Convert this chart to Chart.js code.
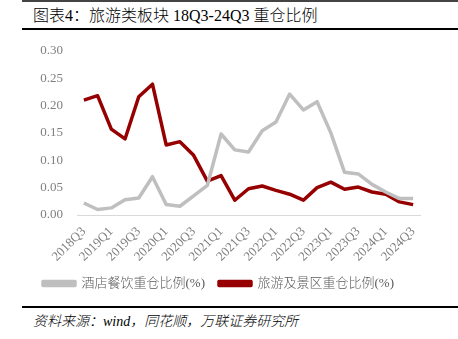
<!DOCTYPE html>
<html>
<head>
<meta charset="utf-8">
<script src="https://cdn.jsdelivr.net/npm/chart.js@4/dist/chart.umd.min.js"></script>
<style>
  html, body { margin: 0; padding: 0; background: #fff; }
  body { width: 458px; height: 339px; position: relative; overflow: hidden;
         font-family: 'Liberation Serif', 'Noto Sans CJK SC', serif; }
  .topline { position: absolute; left: 22px; right: 0; top: 0; height: 2px; background: #444; }
  .title { position: absolute; left: 33px; top: 5px; font-size: 16px; font-weight: 300; color: #000; white-space: nowrap; line-height: 22px; }
  .uline { position: absolute; left: 22px; right: 0; top: 28px; height: 2px; background: #000; }
  .bline { position: absolute; left: 22px; right: 0; top: 306px; height: 2px; background: #000; }
  .source { position: absolute; left: 33px; top: 313px; font-size: 14px; font-weight: 300; font-style: italic; color: #000; white-space: nowrap; line-height: 18px; }
  #wrap { position: absolute; left: 0; top: 29px; width: 458px; height: 271px; }
</style>
</head>
<body>
<div class="topline"></div>
<div class="title">图表4：旅游类板块 18Q3-24Q3 重仓比例</div>
<div class="uline"></div>
<div id="wrap"><canvas id="c"></canvas></div>
<div class="bline"></div>
<div class="source">资料来源：wind，同花顺，万联证券研究所</div>
<script>
const categories = ['2018Q3','2018Q4','2019Q1','2019Q2','2019Q3','2019Q4','2020Q1','2020Q2','2020Q3','2020Q4',
  '2021Q1','2021Q2','2021Q3','2021Q4','2022Q1','2022Q2','2022Q3','2022Q4','2023Q1','2023Q2',
  '2023Q3','2023Q4','2024Q1','2024Q2','2024Q3'];
const hotelValues = [0.022,0.010,0.013,0.028,0.031,0.070,0.019,0.016,0.035,0.054,
  0.148,0.119,0.115,0.154,0.170,0.221,0.192,0.207,0.150,0.078,
  0.075,0.056,0.042,0.030,0.030];
const tourismValues = [0.210,0.218,0.157,0.139,0.216,0.239,0.128,0.134,0.109,0.062,
  0.072,0.027,0.048,0.053,0.045,0.038,0.027,0.050,0.060,0.047,
  0.051,0.042,0.038,0.024,0.019];
const seriesNames = ['酒店餐饮重仓比例(%)', '旅游及景区重仓比例(%)'];
const yTicks = [0, 0.05, 0.10, 0.15, 0.20, 0.25, 0.30];

const FONT = "'Liberation Serif', 'Noto Sans CJK SC', serif";
new Chart(document.getElementById('c'), {
  type: 'line',
  data: {
    labels: categories,
    datasets: [
      { label: seriesNames[0], data: hotelValues, borderColor: '#BFBFBF', backgroundColor: '#BFBFBF',
        borderWidth: 3.5, pointRadius: 0, tension: 0, borderJoinStyle: 'round' },
      { label: seriesNames[1], data: tourismValues, borderColor: '#960000', backgroundColor: '#960000',
        borderWidth: 3.5, pointRadius: 0, tension: 0, borderJoinStyle: 'round' }
    ]
  },
  options: {
    responsive: true,
    maintainAspectRatio: false,
    animation: false,
    layout: { padding: { left: 17, right: 38, top: 8, bottom: 0 } },
    plugins: {
      tooltip: { enabled: false },
      legend: {
        position: 'bottom',
        labels: { boxWidth: 32, boxHeight: 4, padding: 14, color: '#595959',
                  font: { family: FONT, size: 13, weight: 300 } }
      }
    },
    scales: {
      x: {
        offset: true,
        grid: { display: false, drawTicks: false },
        border: { display: true, color: '#D9D9D9', width: 1 },
        ticks: { autoSkip: false, maxRotation: 45, minRotation: 45, padding: 9, color: '#7F7F7F',
                 font: { family: FONT, size: 13 },
                 callback: function(v, i) { return i % 2 === 0 ? categories[i] : ''; } },
        afterFit: s => { s.height = 48; }
      },
      y: {
        min: 0, max: 0.30,
        afterBuildTicks: s => { s.ticks = yTicks.map(v => ({ value: v })); },
        grid: { display: false, drawTicks: false },
        border: { display: false },
        ticks: { padding: 14, color: '#7F7F7F', font: { family: FONT, size: 13 },
                 callback: v => v.toFixed(2) },
        afterFit: s => { s.width = 60; }
      }
    }
  }
});
</script>
</body>
</html>
